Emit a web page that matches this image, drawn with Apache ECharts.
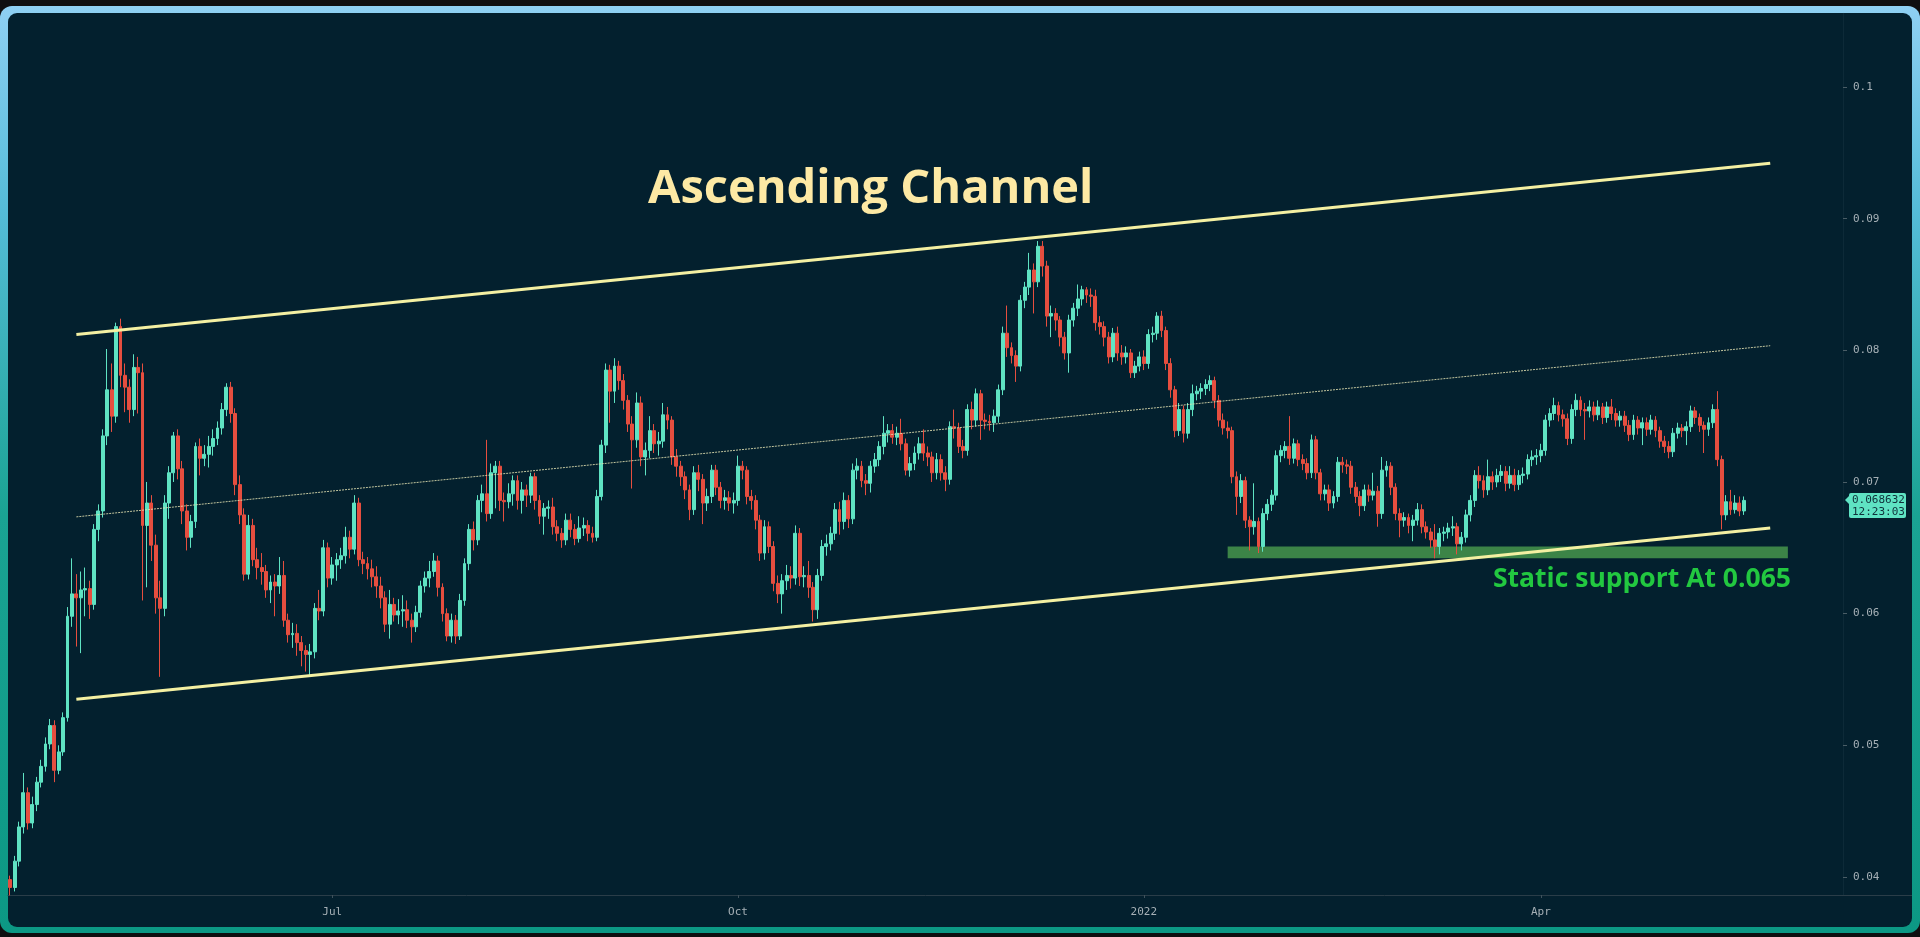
<!DOCTYPE html>
<html>
<head>
<meta charset="utf-8">
<script src="https://cdn.jsdelivr.net/npm/echarts@6/dist/echarts.min.js"></script>
<style>
  html, body { margin:0; padding:0; background:#0f0f10; width:1920px; height:937px; overflow:hidden; }
  #frame { position:absolute; left:0; top:6px; width:1920px; height:927px; border-radius:12px;
           background:linear-gradient(to bottom, #8fd0f3 0%, #55bcd8 22%, #1aa393 55%, #0c9884 100%); }
  #inner { position:absolute; left:8px; top:7px; width:1904px; height:914px; border-radius:9px; background:#03202e; }
  #chart { position:absolute; left:0; top:0; width:1920px; height:937px; }
</style>
</head>
<body>
<div id="frame"><div id="inner"></div></div>
<div id="chart"></div>
<script>
// ---------------- data (ETH/BTC daily) ----------------
const firstDate = '2021-04-19';
const totalDays = 416; // visible category slots incl. empty right margin

const opens = [
0.0398,0.0392,0.0412,0.0438,0.0464,0.0441,0.0455,0.0472,0.0484,0.0501,
0.0515,0.0481,0.0495,0.0521,0.0598,0.0615,0.0612,0.0618,0.0619,0.0607,
0.0664,0.0678,0.0735,0.0770,0.0750,0.0818,0.0781,0.0772,0.0755,0.0787,
0.0783,0.0667,0.0684,0.0652,0.0612,0.0604,0.0684,0.0707,0.0735,0.0710,
0.0678,0.0658,0.0670,0.0727,0.0718,0.0721,0.0727,0.0733,0.0741,0.0755,
0.0772,0.0752,0.0698,0.0675,0.0630,0.0667,0.0641,0.0635,0.0632,0.0618,
0.0624,0.0621,0.0629,0.0595,0.0584,0.0585,0.0578,0.0572,0.0569,0.0571,
0.0604,0.0602,0.0650,0.0627,0.0637,0.0641,0.0644,0.0658,0.0649,0.0684,
0.0641,0.0638,0.0634,0.0628,0.0621,0.0612,0.0592,0.0607,0.0599,0.0602,
0.0603,0.0595,0.0590,0.0601,0.0621,0.0627,0.0632,0.0640,0.0620,0.0600,
0.0583,0.0595,0.0583,0.0610,0.0638,0.0664,0.0656,0.0686,0.0691,0.0676,
0.0707,0.0712,0.0686,0.0685,0.0691,0.0701,0.0686,0.0694,0.0690,0.0704,
0.0686,0.0674,0.0680,0.0681,0.0666,0.0661,0.0656,0.0671,0.0664,0.0657,
0.0665,0.0667,0.0661,0.0658,0.0689,0.0728,0.0785,0.0769,0.0788,0.0777,
0.0762,0.0744,0.0732,0.0760,0.0719,0.0724,0.0739,0.0729,0.0731,0.0751,
0.0747,0.0719,0.0712,0.0704,0.0694,0.0679,0.0707,0.0702,0.0684,0.0689,
0.0709,0.0696,0.0686,0.0688,0.0684,0.0686,0.0712,0.0709,0.0689,0.0686,
0.0671,0.0646,0.0666,0.0651,0.0623,0.0615,0.0625,0.0629,0.0627,0.0661,
0.0628,0.0629,0.0620,0.0603,0.0629,0.0651,0.0653,0.0661,0.0679,0.0670,
0.0686,0.0672,0.0709,0.0712,0.0701,0.0699,0.0712,0.0717,0.0727,0.0737,
0.0739,0.0734,0.0737,0.0729,0.0709,0.0714,0.0722,0.0729,0.0722,0.0719,
0.0707,0.0717,0.0707,0.0702,0.0742,0.0741,0.0727,0.0724,0.0755,0.0747,
0.0767,0.0747,0.0746,0.0745,0.0750,0.0770,0.0813,0.0802,0.0796,0.0788,
0.0838,0.0848,0.0861,0.0852,0.0879,0.0864,0.0826,0.0828,0.0823,0.0810,
0.0798,0.0823,0.0832,0.0839,0.0846,0.0842,0.0841,0.0821,0.0818,0.0810,
0.0795,0.0813,0.0798,0.0795,0.0798,0.0783,0.0788,0.0795,0.0790,0.0812,
0.0813,0.0826,0.0815,0.0790,0.0770,0.0739,0.0755,0.0737,0.0755,0.0767,
0.0769,0.0771,0.0774,0.0777,0.0762,0.0747,0.0741,0.0739,0.0704,0.0689,
0.0701,0.0671,0.0666,0.0670,0.0651,0.0676,0.0683,0.0690,0.0720,0.0724,
0.0727,0.0718,0.0729,0.0717,0.0714,0.0707,0.0732,0.0707,0.0691,0.0694,
0.0684,0.0689,0.0715,0.0713,0.0712,0.0696,0.0689,0.0682,0.0694,0.0690,
0.0693,0.0676,0.0709,0.0712,0.0696,0.0676,0.0671,0.0673,0.0667,0.0671,
0.0679,0.0666,0.0662,0.0656,0.0651,0.0661,0.0662,0.0665,0.0666,0.0653,
0.0658,0.0675,0.0686,0.0705,0.0701,0.0694,0.0704,0.0700,0.0705,0.0708,
0.0699,0.0705,0.0698,0.0705,0.0706,0.0717,0.0719,0.0720,0.0724,0.0747,
0.0752,0.0758,0.0751,0.0748,0.0733,0.0755,0.0762,0.0755,0.0754,0.0757,
0.0751,0.0757,0.0749,0.0757,0.0752,0.0747,0.0750,0.0743,0.0736,0.0747,
0.0741,0.0745,0.0740,0.0747,0.0739,0.0731,0.0727,0.0723,0.0737,0.0741,
0.0739,0.0742,0.0754,0.0749,0.0743,0.0740,0.0745,0.0755,0.0717,0.0675,
0.0685,0.0679,0.0684,0.0678];

const closes = [
0.0392,0.0412,0.0438,0.0464,0.0441,0.0455,0.0472,0.0484,0.0501,0.0515,
0.0481,0.0495,0.0521,0.0598,0.0615,0.0612,0.0618,0.0619,0.0607,0.0664,
0.0678,0.0735,0.0770,0.0750,0.0818,0.0781,0.0772,0.0755,0.0787,0.0783,
0.0667,0.0684,0.0652,0.0612,0.0604,0.0684,0.0707,0.0735,0.0710,0.0678,
0.0658,0.0670,0.0727,0.0718,0.0721,0.0727,0.0733,0.0741,0.0755,0.0772,
0.0752,0.0698,0.0675,0.0630,0.0667,0.0641,0.0635,0.0632,0.0618,0.0624,
0.0621,0.0629,0.0595,0.0584,0.0585,0.0578,0.0572,0.0569,0.0571,0.0604,
0.0602,0.0650,0.0627,0.0637,0.0641,0.0644,0.0658,0.0649,0.0684,0.0641,
0.0638,0.0634,0.0628,0.0621,0.0612,0.0592,0.0607,0.0599,0.0602,0.0603,
0.0595,0.0590,0.0601,0.0621,0.0627,0.0632,0.0640,0.0620,0.0600,0.0583,
0.0595,0.0583,0.0610,0.0638,0.0664,0.0656,0.0686,0.0691,0.0676,0.0707,
0.0712,0.0686,0.0685,0.0691,0.0701,0.0686,0.0694,0.0690,0.0704,0.0686,
0.0674,0.0680,0.0681,0.0666,0.0661,0.0656,0.0671,0.0664,0.0657,0.0665,
0.0667,0.0661,0.0658,0.0689,0.0728,0.0785,0.0769,0.0788,0.0777,0.0762,
0.0744,0.0732,0.0760,0.0719,0.0724,0.0739,0.0729,0.0731,0.0751,0.0747,
0.0719,0.0712,0.0704,0.0694,0.0679,0.0707,0.0702,0.0684,0.0689,0.0709,
0.0696,0.0686,0.0688,0.0684,0.0686,0.0712,0.0709,0.0689,0.0686,0.0671,
0.0646,0.0666,0.0651,0.0623,0.0615,0.0625,0.0629,0.0627,0.0661,0.0628,
0.0629,0.0620,0.0603,0.0629,0.0651,0.0653,0.0661,0.0679,0.0670,0.0686,
0.0672,0.0709,0.0712,0.0701,0.0699,0.0712,0.0717,0.0727,0.0737,0.0739,
0.0734,0.0737,0.0729,0.0709,0.0714,0.0722,0.0729,0.0722,0.0719,0.0707,
0.0717,0.0707,0.0702,0.0742,0.0741,0.0727,0.0724,0.0755,0.0747,0.0767,
0.0747,0.0746,0.0745,0.0750,0.0770,0.0813,0.0802,0.0796,0.0788,0.0838,
0.0848,0.0861,0.0852,0.0879,0.0864,0.0826,0.0828,0.0823,0.0810,0.0798,
0.0823,0.0832,0.0839,0.0846,0.0842,0.0841,0.0821,0.0818,0.0810,0.0795,
0.0813,0.0798,0.0795,0.0798,0.0783,0.0788,0.0795,0.0790,0.0812,0.0813,
0.0826,0.0815,0.0790,0.0770,0.0739,0.0755,0.0737,0.0755,0.0767,0.0769,
0.0771,0.0774,0.0777,0.0762,0.0747,0.0741,0.0739,0.0704,0.0689,0.0701,
0.0671,0.0666,0.0670,0.0651,0.0676,0.0683,0.0690,0.0720,0.0724,0.0727,
0.0718,0.0729,0.0717,0.0714,0.0707,0.0732,0.0707,0.0691,0.0694,0.0684,
0.0689,0.0715,0.0713,0.0712,0.0696,0.0689,0.0682,0.0694,0.0690,0.0693,
0.0676,0.0709,0.0712,0.0696,0.0676,0.0671,0.0673,0.0667,0.0671,0.0679,
0.0666,0.0662,0.0656,0.0651,0.0661,0.0662,0.0665,0.0666,0.0653,0.0658,
0.0675,0.0686,0.0705,0.0701,0.0694,0.0704,0.0700,0.0705,0.0708,0.0699,
0.0705,0.0698,0.0705,0.0706,0.0717,0.0719,0.0720,0.0724,0.0747,0.0752,
0.0758,0.0751,0.0748,0.0733,0.0755,0.0762,0.0755,0.0754,0.0757,0.0751,
0.0757,0.0749,0.0757,0.0752,0.0747,0.0750,0.0743,0.0736,0.0747,0.0741,
0.0745,0.0740,0.0747,0.0739,0.0731,0.0727,0.0723,0.0737,0.0741,0.0739,
0.0742,0.0754,0.0749,0.0743,0.0740,0.0745,0.0755,0.0717,0.0675,0.0685,
0.0679,0.0684,0.0678,0.0686];

const lows = [
0.0386,0.0389,0.0408,0.0433,0.0436,0.0437,0.0450,0.0468,0.0480,0.0497,
0.0472,0.0478,0.0492,0.0518,0.0590,0.0575,0.0570,0.0598,0.0596,0.0603,
0.0655,0.0673,0.0728,0.0738,0.0745,0.0772,0.0753,0.0745,0.0750,0.0752,
0.0610,0.0620,0.0640,0.0600,0.0552,0.0598,0.0672,0.0700,0.0702,0.0668,
0.0648,0.0650,0.0665,0.0705,0.0712,0.0711,0.0720,0.0728,0.0736,0.0750,
0.0745,0.0690,0.0668,0.0625,0.0626,0.0636,0.0626,0.0622,0.0612,0.0608,
0.0598,0.0615,0.0590,0.0578,0.0574,0.0568,0.0560,0.0556,0.0553,0.0566,
0.0595,0.0598,0.0620,0.0622,0.0625,0.0634,0.0638,0.0642,0.0645,0.0636,
0.0630,0.0626,0.0620,0.0612,0.0604,0.0586,0.0581,0.0594,0.0592,0.0590,
0.0589,0.0578,0.0586,0.0597,0.0616,0.0620,0.0628,0.0613,0.0594,0.0579,
0.0578,0.0577,0.0580,0.0606,0.0633,0.0648,0.0652,0.0677,0.0670,0.0672,
0.0680,0.0678,0.0670,0.0680,0.0682,0.0679,0.0676,0.0681,0.0684,0.0679,
0.0668,0.0660,0.0672,0.0660,0.0655,0.0650,0.0652,0.0658,0.0652,0.0654,
0.0659,0.0655,0.0654,0.0655,0.0686,0.0722,0.0745,0.0760,0.0770,0.0755,
0.0738,0.0695,0.0726,0.0712,0.0705,0.0718,0.0722,0.0720,0.0726,0.0740,
0.0713,0.0704,0.0697,0.0687,0.0671,0.0675,0.0693,0.0668,0.0678,0.0684,
0.0690,0.0680,0.0679,0.0678,0.0676,0.0682,0.0702,0.0683,0.0679,0.0664,
0.0640,0.0641,0.0646,0.0617,0.0608,0.0600,0.0618,0.0619,0.0622,0.0621,
0.0620,0.0612,0.0594,0.0596,0.0625,0.0644,0.0648,0.0656,0.0660,0.0664,
0.0665,0.0668,0.0702,0.0696,0.0690,0.0692,0.0707,0.0712,0.0721,0.0730,
0.0729,0.0728,0.0724,0.0705,0.0704,0.0709,0.0717,0.0716,0.0712,0.0700,
0.0702,0.0701,0.0693,0.0698,0.0733,0.0722,0.0718,0.0720,0.0740,0.0742,
0.0732,0.0740,0.0739,0.0738,0.0745,0.0766,0.0795,0.0790,0.0776,0.0784,
0.0832,0.0842,0.0828,0.0848,0.0856,0.0818,0.0810,0.0815,0.0803,0.0793,
0.0783,0.0818,0.0826,0.0834,0.0836,0.0833,0.0815,0.0812,0.0803,0.0790,
0.0791,0.0792,0.0789,0.0790,0.0779,0.0779,0.0784,0.0785,0.0786,0.0806,
0.0808,0.0810,0.0785,0.0764,0.0734,0.0735,0.0730,0.0733,0.0750,0.0762,
0.0763,0.0766,0.0769,0.0756,0.0742,0.0736,0.0733,0.0699,0.0675,0.0684,
0.0665,0.0648,0.0660,0.0646,0.0647,0.0671,0.0678,0.0686,0.0715,0.0718,
0.0713,0.0714,0.0712,0.0709,0.0702,0.0703,0.0702,0.0686,0.0686,0.0678,
0.0680,0.0685,0.0707,0.0706,0.0691,0.0684,0.0674,0.0678,0.0685,0.0686,
0.0666,0.0672,0.0704,0.0690,0.0671,0.0658,0.0666,0.0661,0.0655,0.0667,
0.0661,0.0657,0.0650,0.0642,0.0645,0.0655,0.0657,0.0659,0.0645,0.0648,
0.0654,0.0670,0.0681,0.0695,0.0688,0.0690,0.0694,0.0696,0.0700,0.0693,
0.0695,0.0693,0.0694,0.0699,0.0702,0.0712,0.0713,0.0715,0.0720,0.0742,
0.0747,0.0746,0.0742,0.0728,0.0729,0.0750,0.0750,0.0732,0.0749,0.0746,
0.0747,0.0744,0.0745,0.0747,0.0742,0.0742,0.0738,0.0731,0.0732,0.0736,
0.0728,0.0735,0.0736,0.0734,0.0726,0.0722,0.0718,0.0719,0.0733,0.0734,
0.0728,0.0738,0.0744,0.0738,0.0722,0.0735,0.0741,0.0712,0.0664,0.0671,
0.0675,0.0676,0.0674,0.0675];

const highs = [
0.0401,0.0416,0.0442,0.0479,0.0468,0.0461,0.0476,0.0489,0.0506,0.0520,
0.0519,0.0500,0.0525,0.0605,0.0642,0.0630,0.0632,0.0635,0.0625,0.0668,
0.0683,0.0740,0.0801,0.0790,0.0821,0.0824,0.0790,0.0778,0.0797,0.0795,
0.0790,0.0700,0.0690,0.0660,0.0625,0.0690,0.0712,0.0738,0.0740,0.0716,
0.0683,0.0675,0.0730,0.0733,0.0728,0.0735,0.0740,0.0746,0.0760,0.0775,
0.0776,0.0756,0.0705,0.0680,0.0675,0.0672,0.0650,0.0646,0.0637,0.0629,
0.0630,0.0643,0.0640,0.0600,0.0593,0.0592,0.0583,0.0576,0.0577,0.0608,
0.0618,0.0656,0.0654,0.0643,0.0646,0.0650,0.0666,0.0663,0.0690,0.0688,
0.0647,0.0643,0.0641,0.0636,0.0628,0.0617,0.0618,0.0612,0.0611,0.0614,
0.0610,0.0600,0.0606,0.0625,0.0632,0.0640,0.0646,0.0644,0.0623,0.0604,
0.0600,0.0599,0.0615,0.0642,0.0668,0.0670,0.0690,0.0698,0.0732,0.0714,
0.0716,0.0716,0.0692,0.0699,0.0705,0.0705,0.0700,0.0698,0.0707,0.0707,
0.0690,0.0684,0.0686,0.0688,0.0671,0.0665,0.0676,0.0676,0.0668,0.0674,
0.0673,0.0671,0.0666,0.0694,0.0732,0.0790,0.0789,0.0794,0.0792,0.0782,
0.0766,0.0750,0.0768,0.0765,0.0730,0.0750,0.0744,0.0738,0.0760,0.0757,
0.0750,0.0725,0.0716,0.0708,0.0698,0.0712,0.0713,0.0706,0.0695,0.0713,
0.0713,0.0700,0.0694,0.0693,0.0692,0.0720,0.0716,0.0712,0.0694,0.0690,
0.0675,0.0671,0.0670,0.0655,0.0629,0.0630,0.0637,0.0636,0.0667,0.0665,
0.0636,0.0640,0.0624,0.0634,0.0656,0.0660,0.0666,0.0684,0.0685,0.0692,
0.0690,0.0714,0.0718,0.0716,0.0706,0.0716,0.0722,0.0731,0.0750,0.0744,
0.0744,0.0742,0.0748,0.0733,0.0719,0.0727,0.0734,0.0740,0.0727,0.0723,
0.0722,0.0721,0.0712,0.0746,0.0755,0.0745,0.0732,0.0759,0.0761,0.0771,
0.0770,0.0752,0.0751,0.0755,0.0774,0.0818,0.0834,0.0806,0.0800,0.0842,
0.0852,0.0874,0.0866,0.0883,0.0883,0.0868,0.0834,0.0832,0.0826,0.0814,
0.0827,0.0836,0.0850,0.0849,0.0848,0.0847,0.0846,0.0826,0.0822,0.0814,
0.0817,0.0818,0.0804,0.0803,0.0801,0.0792,0.0799,0.0800,0.0816,0.0818,
0.0829,0.0830,0.0818,0.0794,0.0773,0.0760,0.0758,0.0760,0.0774,0.0773,
0.0775,0.0778,0.0781,0.0780,0.0766,0.0752,0.0746,0.0742,0.0708,0.0706,
0.0704,0.0674,0.0699,0.0673,0.0680,0.0687,0.0694,0.0724,0.0728,0.0731,
0.0750,0.0733,0.0732,0.0721,0.0718,0.0736,0.0735,0.0710,0.0698,0.0698,
0.0693,0.0719,0.0719,0.0717,0.0716,0.0700,0.0693,0.0698,0.0698,0.0707,
0.0697,0.0719,0.0716,0.0715,0.0699,0.0680,0.0677,0.0676,0.0675,0.0684,
0.0683,0.0670,0.0665,0.0668,0.0665,0.0666,0.0669,0.0674,0.0669,0.0662,
0.0679,0.0690,0.0709,0.0712,0.0705,0.0717,0.0708,0.0710,0.0713,0.0712,
0.0712,0.0710,0.0709,0.0711,0.0721,0.0724,0.0725,0.0729,0.0751,0.0756,
0.0764,0.0761,0.0755,0.0752,0.0759,0.0767,0.0765,0.0760,0.0762,0.0761,
0.0762,0.0760,0.0761,0.0763,0.0756,0.0754,0.0754,0.0747,0.0751,0.0750,
0.0749,0.0749,0.0751,0.0750,0.0742,0.0735,0.0731,0.0741,0.0745,0.0744,
0.0746,0.0758,0.0757,0.0752,0.0746,0.0749,0.0759,0.0769,0.0720,0.0690,
0.0694,0.0690,0.0689,0.0689];

// trend lines drawn on the chart (start / end date and price)
const channelDates = ['2021-05-04', '2022-05-23'];
const upperLine = [0.0812, 0.0942];
const middleLine = [0.06735, 0.08035];
const lowerLine = [0.0535, 0.0665];

// static support zone
const supportDates = ['2022-01-20', '2022-05-27'];
const supportRange = [0.0642, 0.0651];

// axis ticks
const yTicks = [0.04, 0.05, 0.06, 0.07, 0.08, 0.09, 0.1];
const yMin = 0.03863, yMax = 0.10562;
const monthNames = { '04': 'Apr', '07': 'Jul', '10': 'Oct' };

const lastPrice = 0.068632;
const countdown = '12:23:03';

// ---------------- build ----------------
const dates = [];
const t0 = Date.parse(firstDate + 'T00:00:00Z');
for (let i = 0; i < totalDays; i++) dates.push(new Date(t0 + i * 86400000).toISOString().slice(0, 10));

const ohlc = closes.map((c, i) => [opens[i], c, lows[i], highs[i]]);

const UP = '#5fe3c3', DOWN = '#e64e3f';
const LINE = '#f4f0a2';
const AX = '#a6b0b6';

function isLabelDate(v) { return /-(01|04|07|10)-01$/.test(v); }

const chart = echarts.init(document.getElementById('chart'), null, { renderer: 'canvas' });

const option = {
  animation: false,
  backgroundColor: 'transparent',
  grid: { left: 8, top: 13, width: 1835, bottom: 42, containLabel: false },
  xAxis: {
    type: 'category',
    data: dates,
    boundaryGap: true,
    axisLine: { show: true, lineStyle: { color: '#2a3d48', width: 1 } },
    axisTick: { show: true, alignWithLabel: true, length: 3, interval: (i, v) => isLabelDate(v), lineStyle: { color: '#3f525c' } },
    axisLabel: {
      interval: (i, v) => isLabelDate(v),
      formatter: v => { const m = v.slice(5, 7); return m === '01' ? v.slice(0, 4) : monthNames[m]; },
      color: AX, fontFamily: 'DejaVu Sans Mono', fontSize: 11, margin: 12
    },
    splitLine: { show: false }
  },
  yAxis: {
    type: 'value',
    position: 'right',
    min: yMin, max: yMax,
    axisLine: { show: true, lineStyle: { color: 'rgba(110,135,150,0.10)' } },
    axisTick: { show: true, customValues: yTicks, length: 4, lineStyle: { color: '#4a5d66' } },
    axisLabel: {
      customValues: yTicks,
      formatter: v => String(+v.toFixed(2)),
      color: AX, fontFamily: 'DejaVu Sans Mono', fontSize: 11, margin: 10
    },
    splitLine: { show: false }
  },
  series: [
    {
      name: 'support', type: 'line', data: [], z: 1, silent: true,
      markArea: {
        silent: true,
        itemStyle: { color: 'rgba(70,150,75,0.85)' },
        data: [[{ xAxis: supportDates[0], yAxis: supportRange[0] }, { xAxis: supportDates[1], yAxis: supportRange[1] }]]
      }
    },
    {
      name: 'ETHBTC', type: 'candlestick', data: ohlc, z: 2,
      barWidth: 3.4,
      itemStyle: { color: UP, color0: DOWN, borderColor: UP, borderColor0: DOWN, borderWidth: 1 }
    },
    {
      name: 'upper', type: 'line', z: 3, silent: true, symbol: 'none',
      data: [[channelDates[0], upperLine[0]], [channelDates[1], upperLine[1]]],
      lineStyle: { color: LINE, width: 3 }
    },
    {
      name: 'middle', type: 'line', z: 3, silent: true, symbol: 'none',
      data: [[channelDates[0], middleLine[0]], [channelDates[1], middleLine[1]]],
      lineStyle: { color: 'rgba(228,226,178,0.85)', width: 1, type: [2, 1] }
    },
    {
      name: 'lower', type: 'line', z: 3, silent: true, symbol: 'none',
      data: [[channelDates[0], lowerLine[0]], [channelDates[1], lowerLine[1]]],
      lineStyle: { color: LINE, width: 3 }
    }
  ]
};
chart.setOption(option);

const py = chart.convertToPixel({ yAxisIndex: 0 }, lastPrice);
chart.setOption({
  graphic: [
    { type: 'text', left: 648, top: 166, style: { text: 'Ascending Channel', font: 'bold 47px "Open Sans"', fill: '#fde9a4' } },
    { type: 'text', left: 1493, top: 566, style: { text: 'Static support At 0.065', font: 'bold 26.5px "Open Sans"', fill: '#22c840' } },
    { type: 'line', shape: { x1: 1843, y1: 895.5, x2: 1912, y2: 895.5 }, style: { stroke: '#2a3d48', lineWidth: 1 } },
    { type: 'polygon', shape: { points: [[1845, py], [1850, py - 5], [1850, py + 5]] }, style: { fill: UP } },
    { type: 'rect', shape: { x: 1849, y: py - 7, width: 57, height: 25, r: 2 }, style: { fill: UP } },
    { type: 'text', x: 1852, y: py, style: { text: lastPrice.toFixed(6), font: '11px "DejaVu Sans Mono"', fill: '#10303a', textVerticalAlign: 'middle' } },
    { type: 'text', x: 1852, y: py + 12, style: { text: countdown, font: '11px "DejaVu Sans Mono"', fill: '#10303a', textVerticalAlign: 'middle' } }
  ]
});
</script>
</body>
</html>
